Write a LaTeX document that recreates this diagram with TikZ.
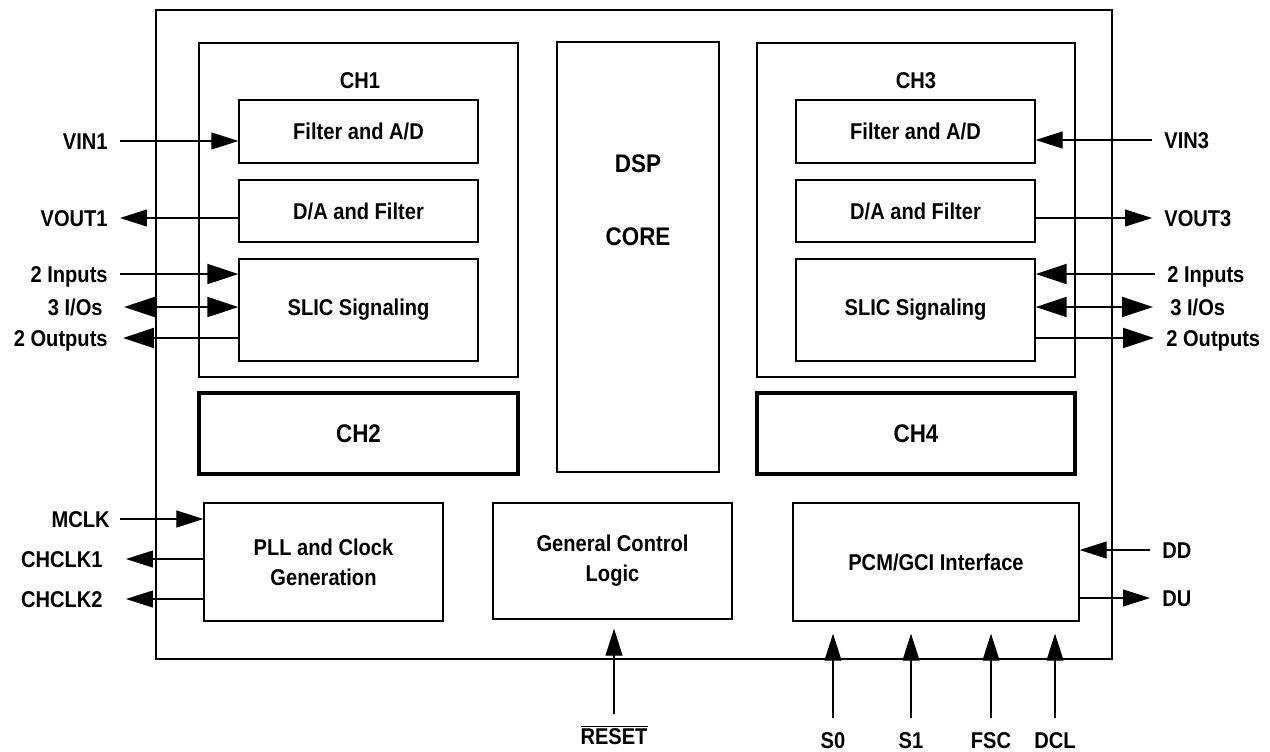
\documentclass[tikz,border=0pt]{standalone}
\usepackage{fontspec}
\setmainfont[FakeStretch=0.88]{Liberation Sans}
\usetikzlibrary{arrows.meta}

\tikzset{
  pf/.tip={Triangle[length=0.54cm,width=0.34cm]},
  pg/.tip={Triangle[length=0.62cm,width=0.4cm]},
  bloco/.style={draw, line width=0.75pt, inner sep=0pt, align=center},
  caixa/.style 2 args={bloco, minimum width=#1*0.02cm, minimum height=#2*0.02cm},
  grande/.style={font=\fontsize{14.5}{17}\selectfont\bfseries},
  rot/.style={text height=9.3pt, text depth=0pt, inner ysep=0pt},
  rotE/.style={rot, anchor=east, inner xsep=0.24cm},
  rotD/.style={rot, anchor=west, inner xsep=0.24cm},
  rotB/.style={rot, anchor=north, inner ysep=0.27cm, inner xsep=0pt},
  fio/.style={line width=0.6pt, -pf},
  fiog/.style={line width=1.2pt, -pg},
  fiogg/.style={line width=1.2pt, pg-pg}
}

\begin{document}
\begin{tikzpicture}[x=0.02cm, y=-0.02cm, font=\fontsize{13}{17}\selectfont\bfseries]
  \useasboundingbox (0,0) rectangle (1270,751);
  % caixa externa
  \node[caixa={956}{649}] (chip) at (634,334.5) {};

  % canal 1
  \node[caixa={319}{334}] (ch1) at (358.5,210) {};
  \node[rot] (ch1t) at (360,80) {CH1};
  \node[caixa={239}{63}] (fad1) at (358.5,131.5) {Filter and A/D};
  \node[caixa={239}{62}] (daf1) at (358.5,211) {D/A and Filter};
  \node[caixa={239}{102}] (slic1) at (358.5,310) {SLIC Signaling};

  % nucleo DSP
  \node[caixa={162}{430}] (dsp) at (638,257) {};
  \node[rot, grande] (dspt) at (638,164) {DSP};
  \node[rot, grande] (coret) at (638,237) {CORE};

  % canal 3
  \node[caixa={318}{334}] (ch3) at (916,210) {};
  \node[rot] (ch3t) at (916,80) {CH3};
  \node[caixa={239}{63}] (fad3) at (915.5,131.5) {Filter and A/D};
  \node[caixa={239}{62}] (daf3) at (915.5,211) {D/A and Filter};
  \node[caixa={239}{102}] (slic3) at (915.5,310) {SLIC Signaling};

  % canais 2 e 4 (borda grossa)
  \node[caixa={319}{81}, line width=1.9pt, grande] (ch2) at (358.5,433.5) {CH2};
  \node[caixa={318}{81}, line width=1.9pt, grande] (ch4) at (916,433.5) {CH4};

  % blocos de baixo
  \node[caixa={239}{118}] (pll) at (323.5,562) {PLL and Clock\\Generation};
  \node[caixa={239}{116}] (gcl) at (612.5,561) {General Control\\Logic};
  \node[caixa={286}{118}] (pcm) at (936,562) {PCM/GCI Interface};

  % sinais a esquerda
  \node[rotE] (vin1) at (120,141) {VIN1};
  \draw[fio] (vin1.east) -- (fad1.west |- vin1.east);
  \node[rotE] (vout1) at (120,218) {VOUT1};
  \draw[fio] (daf1.west |- vout1.east) -- (vout1.east);
  \node[rotE] (in1) at (120,274) {2 Inputs};
  \draw[fiog] (in1.east) -- (slic1.west |- in1.east);
  \node[rotE, inner xsep=0.42cm] (io1) at (124,307) {3 I/Os};
  \draw[fiogg] (io1.east) -- (slic1.west |- io1.east);
  \node[rotE, inner xsep=0.3cm] (out1) at (123,338) {2 Outputs};
  \draw[fiog] (slic1.west |- out1.east) -- (out1.east);
  \node[rotE, inner xsep=0.2cm] (mclk) at (120,519) {MCLK};
  \draw[fio] (mclk.east) -- (pll.west |- mclk.east);
  \node[rotE, inner xsep=0.46cm] (chclka) at (126,559) {CHCLK1};
  \draw[fio] (pll.west |- chclka.east) -- (chclka.east);
  \node[rotE, inner xsep=0.46cm] (chclkb) at (126,599) {CHCLK2};
  \draw[fio] (pll.west |- chclkb.east) -- (chclkb.east);

  % sinais a direita
  \node[rotD] (vin3) at (1152,140) {VIN3};
  \draw[fio] (vin3.west) -- (fad3.east |- vin3.west);
  \node[rotD] (vout3) at (1152,218) {VOUT3};
  \draw[fio] (daf3.east |- vout3.west) -- (vout3.west);
  \node[rotD] (in3) at (1155,274) {2 Inputs};
  \draw[fiog] (in3.west) -- (slic3.east |- in3.west);
  \node[rotD, inner xsep=0.34cm] (io3) at (1153,307) {3 I/Os};
  \draw[fiogg] (slic3.east |- io3.west) -- (io3.west);
  \node[rotD] (out3) at (1154,338) {2 Outputs};
  \draw[fiog] (slic3.east |- out3.west) -- (out3.west);
  \node[rotD] (dd) at (1150,550) {DD};
  \draw[fio] (dd.west) -- (pcm.east |- dd.west);
  \node[rotD] (du) at (1150,598) {DU};
  \draw[fio] (pcm.east |- du.west) -- (du.west);

  % sinais de baixo
  \node[anchor=north, inner ysep=6pt, inner xsep=0pt] (rst) at (614,714) {$\overline{\mbox{RESET}}$};
  \draw[fio, shorten >=0.18cm] (rst.north) -- (gcl.south -| rst.north);
  \foreach \x/\lbl/\nm in {833/S0/s0, 911/S1/s1, 991/FSC/fsc, 1055/DCL/dcl} {
    \node[rotB] (\nm) at (\x,718) {\lbl};
    \draw[fio, shorten >=0.24cm] (\nm.north) -- (pcm.south -| \nm.north);
  }
\end{tikzpicture}
\end{document}
